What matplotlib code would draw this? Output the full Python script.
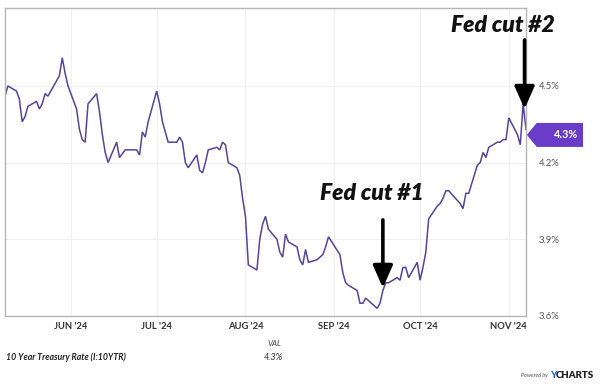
import matplotlib
matplotlib.use("Agg")
import matplotlib.pyplot as plt
from matplotlib.patches import Polygon
import matplotlib.transforms as mtransforms
import pandas as pd

dates = [
    "2024-05-09", "2024-05-10", "2024-05-13", "2024-05-14", "2024-05-15", "2024-05-16", "2024-05-17",
    "2024-05-20", "2024-05-21", "2024-05-22", "2024-05-23", "2024-05-24", "2024-05-28", "2024-05-29",
    "2024-05-30", "2024-05-31",
    "2024-06-03", "2024-06-04", "2024-06-05", "2024-06-06", "2024-06-07", "2024-06-10", "2024-06-11",
    "2024-06-12", "2024-06-13", "2024-06-14", "2024-06-17", "2024-06-18", "2024-06-20", "2024-06-21",
    "2024-06-24", "2024-06-25", "2024-06-26", "2024-06-27", "2024-06-28",
    "2024-07-01", "2024-07-02", "2024-07-03", "2024-07-05", "2024-07-08", "2024-07-09", "2024-07-10",
    "2024-07-11", "2024-07-12", "2024-07-15", "2024-07-16", "2024-07-17", "2024-07-18", "2024-07-19",
    "2024-07-22", "2024-07-23", "2024-07-24", "2024-07-25", "2024-07-26", "2024-07-29", "2024-07-30",
    "2024-07-31",
    "2024-08-01", "2024-08-02", "2024-08-05", "2024-08-06", "2024-08-07", "2024-08-08", "2024-08-09",
    "2024-08-12", "2024-08-13", "2024-08-14", "2024-08-15", "2024-08-16", "2024-08-19", "2024-08-20",
    "2024-08-21", "2024-08-22", "2024-08-23", "2024-08-26", "2024-08-27", "2024-08-28", "2024-08-29",
    "2024-08-30",
    "2024-09-03", "2024-09-04", "2024-09-05", "2024-09-06", "2024-09-09", "2024-09-10", "2024-09-11",
    "2024-09-12", "2024-09-13", "2024-09-16", "2024-09-17", "2024-09-18", "2024-09-19", "2024-09-20",
    "2024-09-23", "2024-09-24", "2024-09-25", "2024-09-26", "2024-09-27", "2024-09-30",
    "2024-10-01", "2024-10-02", "2024-10-03", "2024-10-04", "2024-10-07", "2024-10-08", "2024-10-09",
    "2024-10-10", "2024-10-11", "2024-10-15", "2024-10-16", "2024-10-17", "2024-10-18", "2024-10-21",
    "2024-10-22", "2024-10-23", "2024-10-24", "2024-10-25", "2024-10-28", "2024-10-29", "2024-10-30",
    "2024-10-31",
    "2024-11-01", "2024-11-04", "2024-11-05", "2024-11-06", "2024-11-07",
]
rates = [
    4.46, 4.50, 4.48, 4.45, 4.36, 4.38, 4.42,
    4.44, 4.41, 4.43, 4.47, 4.46, 4.54, 4.61,
    4.55, 4.50,
    4.41, 4.33, 4.29, 4.28, 4.43, 4.47, 4.40,
    4.31, 4.24, 4.20, 4.28, 4.22, 4.25, 4.25,
    4.25, 4.23, 4.32, 4.30, 4.36,
    4.48, 4.43, 4.36, 4.28, 4.28, 4.30, 4.28,
    4.20, 4.18, 4.23, 4.17, 4.16, 4.20, 4.25,
    4.26, 4.25, 4.28, 4.27, 4.20, 4.18, 4.15,
    4.06,
    3.99, 3.80, 3.78, 3.90, 3.96, 3.99, 3.94,
    3.90, 3.85, 3.83, 3.92, 3.89, 3.87, 3.82,
    3.80, 3.86, 3.81, 3.82, 3.83, 3.84, 3.87,
    3.91,
    3.84, 3.77, 3.73, 3.72, 3.70, 3.65, 3.65,
    3.67, 3.66, 3.63, 3.65, 3.70, 3.73, 3.73,
    3.75, 3.74, 3.79, 3.79, 3.75, 3.81,
    3.74, 3.79, 3.85, 3.98, 4.03, 4.04, 4.06,
    4.09, 4.09, 4.04, 4.02, 4.08, 4.08, 4.19,
    4.20, 4.24, 4.22, 4.26, 4.28, 4.28, 4.29,
    4.29,
    4.375, 4.31, 4.27, 4.43, 4.33,
]
month_ticks = ["2024-06-01", "2024-07-01", "2024-08-01", "2024-09-01", "2024-10-01", "2024-11-01"]
month_labels = ["JUN '24", "JUL '24", "AUG '24", "SEP '24", "OCT '24", "NOV '24"]
y_ticks = [3.6, 3.9, 4.2, 4.5]
y_labels = ["3.6%", "3.9%", "4.2%", "4.5%"]
series_name = "10 Year Treasury Rate (I:10YTR)"
last_label = "4.3%"
cut1_date, cut1_val = "2024-09-18", 3.71
cut2_date, cut2_val = "2024-11-06", 4.41

ui = ["Lato", "DejaVu Sans"]

x = pd.to_datetime(dates)
fig = plt.figure(figsize=(6.0, 3.86), dpi=100)
ax = fig.add_axes([5/600, 70/386, 521/600, 308/386])

line_color = "#55449a"
ax.plot(x, rates, color=line_color, lw=1.1, solid_joinstyle="miter")

ax.set_xlim(pd.Timestamp("2024-05-09"), pd.Timestamp("2024-11-07"))
ax.set_ylim(3.6, 4.805)

ax.set_xticks(pd.to_datetime(month_ticks))
ax.set_xticklabels(month_labels, fontsize=6.8, fontweight="bold", color="#333333", family=ui)
ax.set_yticks(y_ticks)
ax.set_yticklabels(y_labels, fontsize=6.8, color="#555555", family=ui)
ax.yaxis.tick_right()
ax.tick_params(axis="both", length=0)
ax.tick_params(axis="y", pad=9)
ax.tick_params(axis="x", pad=4)
ax.grid(True, color="#f0f0f0", lw=0.8)
ax.set_axisbelow(True)
for s in ax.spines.values():
    s.set_color("#b5b5b5")
    s.set_linewidth(1.0)

# Price tag
trans = mtransforms.blended_transform_factory(ax.transAxes, ax.transData)
last_val = rates[-1]
ppy = 308 / (4.805 - 3.6)
h = 12 / ppy
yc = last_val - 5.5 / ppy
tag = Polygon([(1.0015, yc), (1.0207, yc + h), (1.1095, yc + h), (1.1095, yc - h), (1.0207, yc - h)],
              closed=True, transform=trans, clip_on=False, facecolor="#6a3dc9", edgecolor="none")
ax.add_patch(tag)
ax.text(1.1005, yc, last_label, transform=trans, ha="right", va="center",
        color="white", fontsize=7.8, fontweight="bold", family=ui)

# Annotations
hand = ["Lato", "DejaVu Sans"]
ax.text(pd.Timestamp("2024-09-14"), 4.081, "Fed cut #1", ha="center", va="center", fontsize=16.5,
        fontweight="heavy", style="italic", family=hand, color="#111111")
ax.text(pd.Timestamp("2024-10-30"), 4.735, "Fed cut #2", ha="center", va="center", fontsize=16.5,
        fontweight="heavy", style="italic", family=hand, color="#111111", clip_on=False)
arrow_kw = dict(arrowstyle="-|>,head_length=0.68,head_width=0.3", color="black", lw=2.6,
                mutation_scale=20, shrinkA=0, shrinkB=0)
ax.annotate("", xy=(pd.Timestamp(cut1_date), cut1_val), xytext=(pd.Timestamp(cut1_date), 3.976),
            arrowprops=arrow_kw)
ax.annotate("", xy=(pd.Timestamp(cut2_date) + pd.Timedelta(hours=12), cut2_val),
            xytext=(pd.Timestamp(cut2_date) + pd.Timedelta(hours=12), 4.68),
            arrowprops=arrow_kw, annotation_clip=False)

# Footer
fig.text(281/600, 1 - 344/386, "VAL", ha="right", va="center", fontsize=5.8, style="italic",
         color="#444444", family=ui)
fig.text(6/600, 1 - 357/386, series_name, ha="left", va="center", fontsize=6.3, style="italic",
         fontweight="bold", color="#222222", family=ui)
fig.text(283/600, 1 - 357/386, last_label, ha="right", va="center", fontsize=6.5, style="italic",
         color="#333333", family=ui)
fig.text(548/600, 1 - 376/386, "Powered by", ha="right", va="center", fontsize=4, style="italic",
         color="#555555", family=ui)
fig.text(550/600, 1 - 376/386, "Y", ha="left", va="center", fontsize=7, fontweight="heavy",
         color="#2a6fd6", family=ui)
fig.text(556/600, 1 - 376/386, "CHARTS", ha="left", va="center", fontsize=7, fontweight="heavy",
         color="#222222", family=ui)

fig.savefig("out.png", dpi=100)
